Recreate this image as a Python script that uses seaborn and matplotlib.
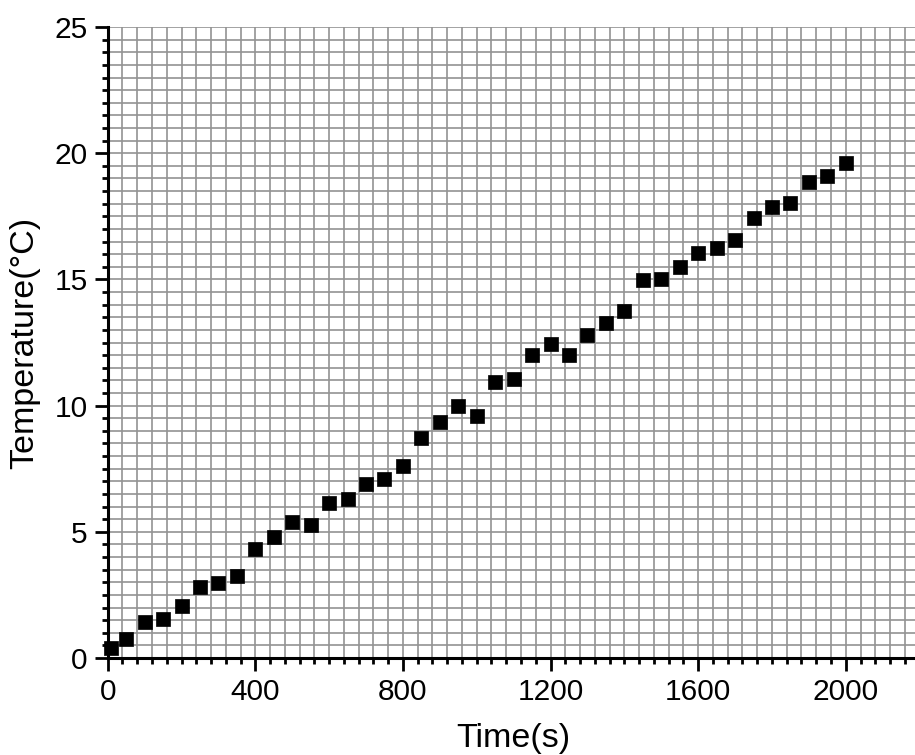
import matplotlib
matplotlib.use("Agg")
import matplotlib.pyplot as plt
from matplotlib.ticker import MultipleLocator
import seaborn as sns
import pandas as pd

# Heating record: time (s) and measured temperature (°C)
time_s = [10, 50, 100, 150, 200, 250, 300, 350, 400, 450, 500, 550, 600, 650,
          700, 750, 800, 850, 900, 950, 1000, 1050, 1100, 1150, 1200, 1250,
          1300, 1350, 1400, 1450, 1500, 1550, 1600, 1650, 1700, 1750, 1800,
          1850, 1900, 1950, 2000]
temperature_c = [0.38, 0.76, 1.41, 1.56, 2.04, 2.80, 2.97, 3.25, 4.32, 4.78,
                 5.38, 5.25, 6.13, 6.31, 6.89, 7.10, 7.59, 8.71, 9.34, 9.97,
                 9.59, 10.94, 11.04, 11.99, 12.43, 12.00, 12.80, 13.26, 13.76,
                 14.96, 15.02, 15.48, 16.05, 16.24, 16.56, 17.42, 17.86,
                 18.04, 18.85, 19.11, 19.60]

x_major_ticks = [0, 400, 800, 1200, 1600, 2000]
y_major_ticks = [0, 5, 10, 15, 20, 25]

df = pd.DataFrame({"Time(s)": time_s, "Temperature": temperature_c})

sns.set_style("white")
plt.rcParams["font.family"] = ["Liberation Sans", "DejaVu Sans"]
plt.rcParams["text.color"] = "black"
plt.rcParams["axes.labelcolor"] = "black"

fig = plt.figure(figsize=(9.15, 7.55), dpi=100)
ax = fig.add_axes([0.1177, 0.1285, 0.8873, 0.8357])

sns.scatterplot(data=df, x="Time(s)", y="Temperature", marker="s", s=100,
                color="black", edgecolor="black", linewidth=0.5, ax=ax,
                zorder=3, clip_on=False)

ax.set_xlim(0, 2200)
ax.set_ylim(0, 25)
ax.set_xticks(x_major_ticks)
ax.set_yticks(y_major_ticks)
ax.xaxis.set_minor_locator(MultipleLocator(40))
ax.yaxis.set_minor_locator(MultipleLocator(0.5))

ax.grid(True, which="both", color="#929292", linewidth=1.2)
ax.set_axisbelow(True)

for side in ["top", "right"]:
    ax.spines[side].set_visible(False)
for side in ["left", "bottom"]:
    ax.spines[side].set_linewidth(2.2)
    ax.spines[side].set_color("black")

ax.tick_params(which="both", bottom=True, left=True, top=False, right=False)
ax.tick_params(which="major", direction="out", length=9.5, width=2,
               labelsize=21.5, colors="black", pad=5)
ax.tick_params(which="minor", direction="out", length=4.5, width=2,
               colors="black")

ax.set_xlabel("Time(s)", fontsize=24.5, labelpad=12)
ax.set_ylabel("Temperature(°C)", fontsize=24.5, labelpad=10)

fig.savefig("out.png", dpi=100)
